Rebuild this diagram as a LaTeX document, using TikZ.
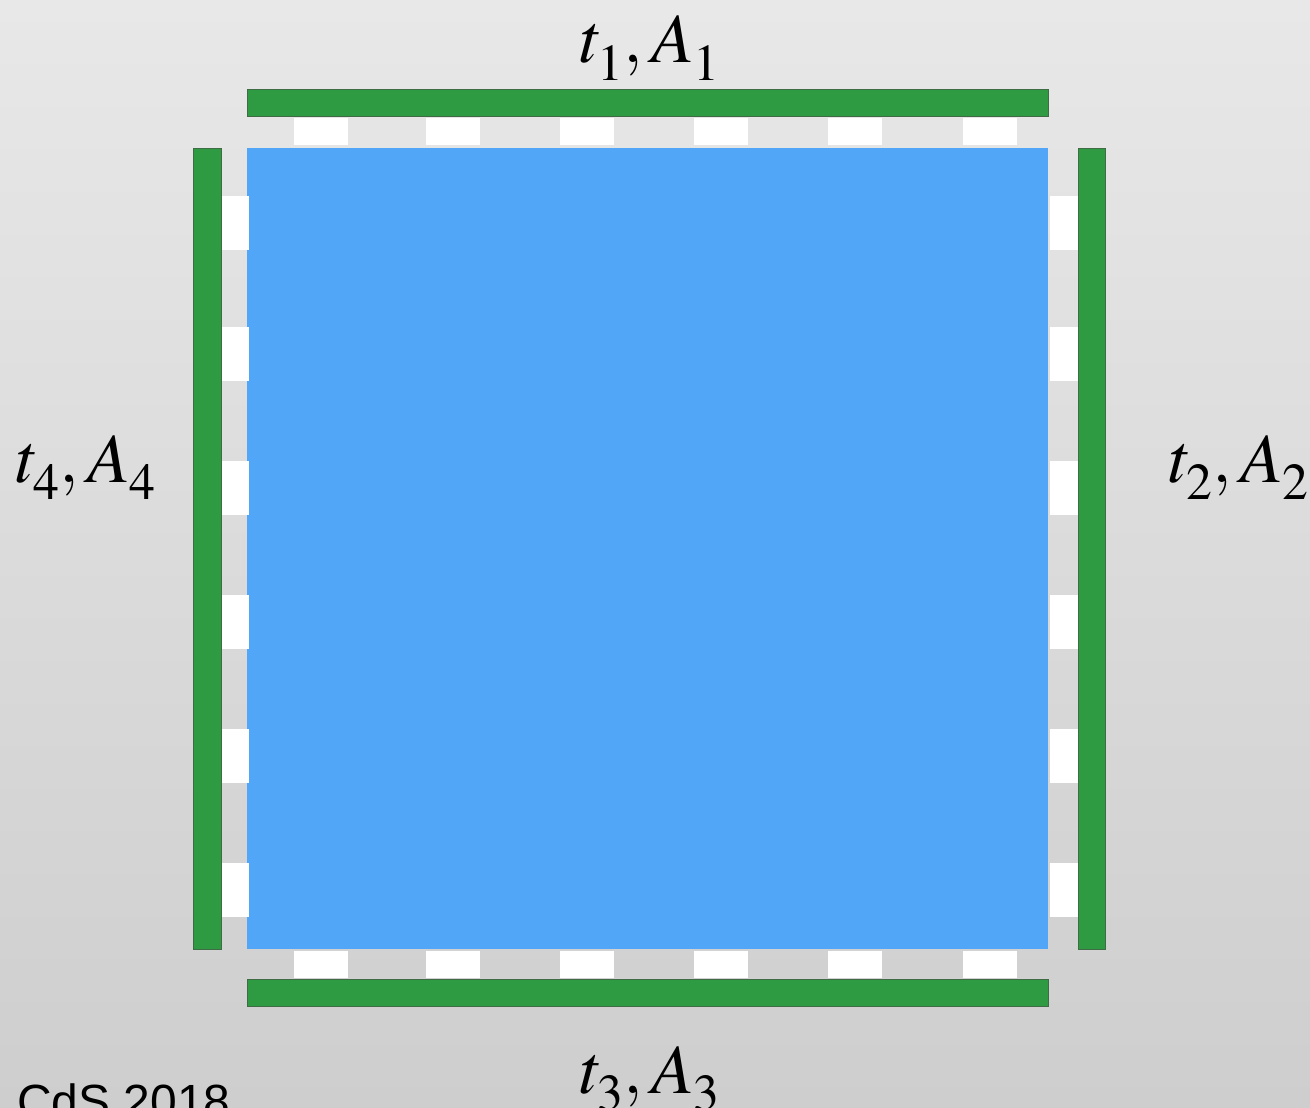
\documentclass[tikz,border=0pt]{standalone}
\usepackage{mathptmx}
\usepackage{fontspec}
\newfontfamily\cdsfont{Liberation Sans}
\definecolor{bgtop}{HTML}{E8E8E8}
\definecolor{bgbot}{HTML}{CECECE}
\definecolor{bargreen}{HTML}{2E9A41}
\definecolor{baredge}{HTML}{3F6B45}
\definecolor{sqblue}{HTML}{51A6F8}
\newcommand\lsbx[1]{\lower7pt\hbox{$\scriptstyle#1$}}
\tikzset{
  greenbar/.style={fill=bargreen, draw=baredge, line width=0.6pt},
  tab/.style={fill=white},
  lbl/.style={anchor=base, inner sep=0pt, font=\fontsize{70}{80}\selectfont}
}
\begin{document}
\begin{tikzpicture}[x=1pt,y=-1pt]
  \useasboundingbox (0,0) rectangle (1310,1108);
  \shade[top color=bgtop, bottom color=bgbot] (0,0) rectangle (1310,1108);
  % blue square
  \fill[sqblue] (247,148) rectangle (1048,949);
  % green bars
  \draw[greenbar] (247,89) rectangle (1048,116);
  \draw[greenbar] (247,979) rectangle (1048,1006);
  \draw[greenbar] (193,148) rectangle (221,949);
  \draw[greenbar] (1078,148) rectangle (1105,949);
  % white tabs
  \foreach \p in {294,426,560,694,828,963}{
    \fill[tab] (\p,118) rectangle ++(54,27);
    \fill[tab] (\p,951) rectangle ++(54,27);
  }
  \foreach \q in {196,327,461,595,729,863}{
    \fill[tab] (222,\q) rectangle ++(27,54);
    \fill[tab] (1050,\q) rectangle ++(28,54);
  }
  % labels
  \node[lbl] (l1) at (650,63) {$t_{\lsbx1}, A_{\lsbx1}$};
  \node[lbl] (l2) at (1239,482) {$t_{\lsbx2}, A_{\lsbx2}$};
  \node[lbl] (l3) at (650,1093) {$t_{\lsbx3}, A_{\lsbx3}$};
  \node[lbl] (l4) at (86,482) {$t_{\lsbx4}, A_{\lsbx4}$};
  \node[anchor=base west, inner sep=0pt, font=\cdsfont\fontsize{48}{52}\selectfont] (cds) at (17,1118) {CdS 2018};
\end{tikzpicture}
\end{document}
